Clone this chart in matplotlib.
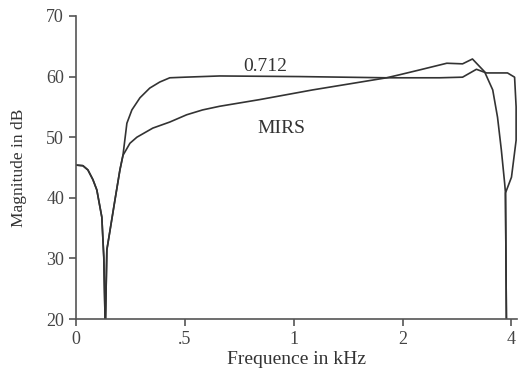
import numpy as np
import matplotlib
matplotlib.use("Agg")
import matplotlib.pyplot as plt

plt.rcParams['font.family'] = ['Liberation Serif', 'DejaVu Serif']

# frequency (kHz) and magnitude (dB)
shared_f = [0.0, 0.032, 0.055, 0.078, 0.096, 0.119, 0.128, 0.135, 0.142, 0.179, 0.202, 0.216]
shared_db = [45.4, 45.3, 44.6, 43.0, 41.3, 36.8, 30.2, 18.0, 31.4, 39.6, 44.6, 47.0]

flat_f = [0.234, 0.257, 0.294, 0.339, 0.385, 0.431, 0.50, 0.624, 1.039, 1.806, 2.53, 2.93,
          3.20, 3.41, 3.90, 4.08, 4.12, 4.12, 4.0, 3.85, 3.875]
flat_db = [52.3, 54.5, 56.5, 58.1, 59.1, 59.8, 59.9, 60.1, 60.0, 59.8, 59.8, 59.9,
           61.2, 60.6, 60.6, 59.9, 55.0, 49.5, 43.4, 40.8, 18.0]

mirs_f = [0.248, 0.280, 0.353, 0.431, 0.506, 0.560, 0.624, 0.805, 1.128, 1.428, 1.806, 1.962,
          2.23, 2.65, 2.93, 3.12, 3.37, 3.55, 3.66, 3.75, 3.83, 3.85, 3.875]
mirs_db = [49.0, 50.0, 51.5, 52.5, 53.7, 54.5, 55.1, 56.2, 57.8, 58.8, 59.8, 60.3,
           61.1, 62.2, 62.1, 62.9, 60.8, 57.8, 53.3, 47.9, 42.4, 40.8, 18.0]

xticks = [0, 0.5, 1, 2, 4]
xticklabels = ['0', '.5', '1', '2', '4']
yticks = [20, 30, 40, 50, 60, 70]


def warp(f):
    f = np.asarray(f, dtype=float)
    return np.where(f <= 0.5, 2 * f, 2 + np.log2(np.maximum(f, 1e-9)))


def unwarp(u):
    u = np.asarray(u, dtype=float)
    return np.where(u <= 1, u / 2, 2 ** (u - 2))


fig = plt.figure(figsize=(5.2, 3.71), dpi=100)
ax = fig.add_axes([0.146, 0.140, 0.848, 0.817])
ax.set_xscale('function', functions=(warp, unwarp))

line_kw = dict(color='#333333', lw=1.2)
ax.plot(shared_f + flat_f, shared_db + flat_db, **line_kw)
ax.plot(shared_f + mirs_f, shared_db + mirs_db, **line_kw)

ax.text(0.837, 61.7, '0.712', ha='center', va='center', fontsize=14, color='#333333')
ax.text(0.926, 51.4, 'MIRS', ha='center', va='center', fontsize=14, color='#333333')

ax.set_xlim(0, 4.14)
ax.set_ylim(20, 70)
ax.set_xticks(xticks)
ax.set_xticklabels(xticklabels)
ax.set_yticks(yticks)
ax.minorticks_off()

for s in ['top', 'right']:
    ax.spines[s].set_visible(False)
for s in ['left', 'bottom']:
    ax.spines[s].set_color('#555555')
    ax.spines[s].set_linewidth(1.2)
ax.tick_params(colors='#555555', labelcolor='#444444', labelsize=13,
               length=5, width=1.2, direction='out')

ax.set_xlabel('Frequence in kHz', fontsize=14, color='#333333', labelpad=2)
ax.set_ylabel('Magnitude in dB', fontsize=12.5, color='#333333', labelpad=14)

fig.savefig('out.png', dpi=100)
